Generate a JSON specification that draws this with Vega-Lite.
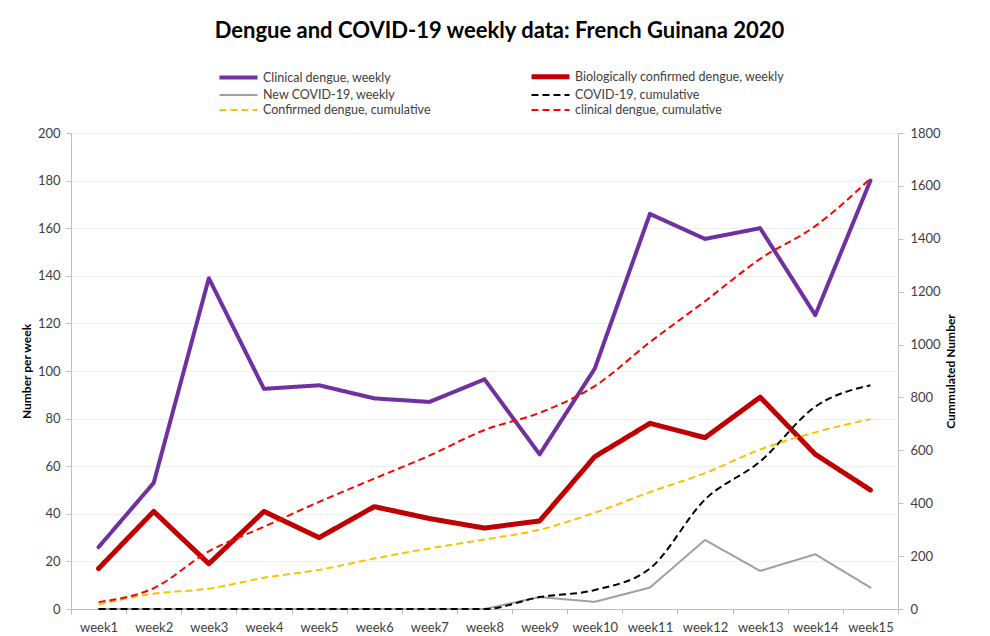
{
  "$schema": "https://vega.github.io/schema/vega-lite/v6.json",
  "width": 827,
  "height": 476,
  "autosize": "none",
  "padding": {"left": 71, "top": 133, "right": 92, "bottom": 27},
  "background": "white",
  "title": {
    "text": "Dengue and COVID-19 weekly data: French Guinana 2020",
    "font": "Lato",
    "fontSize": 22,
    "fontWeight": "bold",
    "color": "black",
    "anchor": "middle",
    "frame": "group",
    "dx": 15,
    "offset": 24
  },
  "data": {
    "values": [
      {"week": "week1", "series": "Clinical dengue, weekly", "value": 26},
      {"week": "week2", "series": "Clinical dengue, weekly", "value": 53},
      {"week": "week3", "series": "Clinical dengue, weekly", "value": 139},
      {"week": "week4", "series": "Clinical dengue, weekly", "value": 92.5},
      {"week": "week5", "series": "Clinical dengue, weekly", "value": 94},
      {"week": "week6", "series": "Clinical dengue, weekly", "value": 88.5},
      {"week": "week7", "series": "Clinical dengue, weekly", "value": 87},
      {"week": "week8", "series": "Clinical dengue, weekly", "value": 96.5},
      {"week": "week9", "series": "Clinical dengue, weekly", "value": 65},
      {"week": "week10", "series": "Clinical dengue, weekly", "value": 101},
      {"week": "week11", "series": "Clinical dengue, weekly", "value": 166},
      {"week": "week12", "series": "Clinical dengue, weekly", "value": 155.5},
      {"week": "week13", "series": "Clinical dengue, weekly", "value": 160},
      {"week": "week14", "series": "Clinical dengue, weekly", "value": 123.5},
      {"week": "week15", "series": "Clinical dengue, weekly", "value": 180},

      {"week": "week1", "series": "Biologically confirmed dengue, weekly", "value": 17},
      {"week": "week2", "series": "Biologically confirmed dengue, weekly", "value": 41},
      {"week": "week3", "series": "Biologically confirmed dengue, weekly", "value": 19},
      {"week": "week4", "series": "Biologically confirmed dengue, weekly", "value": 41},
      {"week": "week5", "series": "Biologically confirmed dengue, weekly", "value": 30},
      {"week": "week6", "series": "Biologically confirmed dengue, weekly", "value": 43},
      {"week": "week7", "series": "Biologically confirmed dengue, weekly", "value": 38},
      {"week": "week8", "series": "Biologically confirmed dengue, weekly", "value": 34},
      {"week": "week9", "series": "Biologically confirmed dengue, weekly", "value": 37},
      {"week": "week10", "series": "Biologically confirmed dengue, weekly", "value": 64},
      {"week": "week11", "series": "Biologically confirmed dengue, weekly", "value": 78},
      {"week": "week12", "series": "Biologically confirmed dengue, weekly", "value": 72},
      {"week": "week13", "series": "Biologically confirmed dengue, weekly", "value": 89},
      {"week": "week14", "series": "Biologically confirmed dengue, weekly", "value": 65},
      {"week": "week15", "series": "Biologically confirmed dengue, weekly", "value": 50},

      {"week": "week1", "series": "New COVID-19, weekly", "value": 0},
      {"week": "week2", "series": "New COVID-19, weekly", "value": 0},
      {"week": "week3", "series": "New COVID-19, weekly", "value": 0},
      {"week": "week4", "series": "New COVID-19, weekly", "value": 0},
      {"week": "week5", "series": "New COVID-19, weekly", "value": 0},
      {"week": "week6", "series": "New COVID-19, weekly", "value": 0},
      {"week": "week7", "series": "New COVID-19, weekly", "value": 0},
      {"week": "week8", "series": "New COVID-19, weekly", "value": 0},
      {"week": "week9", "series": "New COVID-19, weekly", "value": 5},
      {"week": "week10", "series": "New COVID-19, weekly", "value": 3},
      {"week": "week11", "series": "New COVID-19, weekly", "value": 9},
      {"week": "week12", "series": "New COVID-19, weekly", "value": 29},
      {"week": "week13", "series": "New COVID-19, weekly", "value": 16},
      {"week": "week14", "series": "New COVID-19, weekly", "value": 23},
      {"week": "week15", "series": "New COVID-19, weekly", "value": 9},

      {"week": "week1", "series": "COVID-19, cumulative", "value": 0},
      {"week": "week2", "series": "COVID-19, cumulative", "value": 0},
      {"week": "week3", "series": "COVID-19, cumulative", "value": 0},
      {"week": "week4", "series": "COVID-19, cumulative", "value": 0},
      {"week": "week5", "series": "COVID-19, cumulative", "value": 0},
      {"week": "week6", "series": "COVID-19, cumulative", "value": 0},
      {"week": "week7", "series": "COVID-19, cumulative", "value": 0},
      {"week": "week8", "series": "COVID-19, cumulative", "value": 0},
      {"week": "week9", "series": "COVID-19, cumulative", "value": 5},
      {"week": "week10", "series": "COVID-19, cumulative", "value": 8},
      {"week": "week11", "series": "COVID-19, cumulative", "value": 17},
      {"week": "week12", "series": "COVID-19, cumulative", "value": 46},
      {"week": "week13", "series": "COVID-19, cumulative", "value": 62},
      {"week": "week14", "series": "COVID-19, cumulative", "value": 85},
      {"week": "week15", "series": "COVID-19, cumulative", "value": 94},

      {"week": "week1", "series": "Confirmed dengue, cumulative", "value": 17},
      {"week": "week2", "series": "Confirmed dengue, cumulative", "value": 58},
      {"week": "week3", "series": "Confirmed dengue, cumulative", "value": 77},
      {"week": "week4", "series": "Confirmed dengue, cumulative", "value": 118},
      {"week": "week5", "series": "Confirmed dengue, cumulative", "value": 148},
      {"week": "week6", "series": "Confirmed dengue, cumulative", "value": 191},
      {"week": "week7", "series": "Confirmed dengue, cumulative", "value": 229},
      {"week": "week8", "series": "Confirmed dengue, cumulative", "value": 263},
      {"week": "week9", "series": "Confirmed dengue, cumulative", "value": 300},
      {"week": "week10", "series": "Confirmed dengue, cumulative", "value": 364},
      {"week": "week11", "series": "Confirmed dengue, cumulative", "value": 442},
      {"week": "week12", "series": "Confirmed dengue, cumulative", "value": 514},
      {"week": "week13", "series": "Confirmed dengue, cumulative", "value": 603},
      {"week": "week14", "series": "Confirmed dengue, cumulative", "value": 668},
      {"week": "week15", "series": "Confirmed dengue, cumulative", "value": 718},

      {"week": "week1", "series": "clinical dengue, cumulative", "value": 26},
      {"week": "week2", "series": "clinical dengue, cumulative", "value": 79},
      {"week": "week3", "series": "clinical dengue, cumulative", "value": 218},
      {"week": "week4", "series": "clinical dengue, cumulative", "value": 311},
      {"week": "week5", "series": "clinical dengue, cumulative", "value": 405},
      {"week": "week6", "series": "clinical dengue, cumulative", "value": 493},
      {"week": "week7", "series": "clinical dengue, cumulative", "value": 580},
      {"week": "week8", "series": "clinical dengue, cumulative", "value": 677},
      {"week": "week9", "series": "clinical dengue, cumulative", "value": 742},
      {"week": "week10", "series": "clinical dengue, cumulative", "value": 843},
      {"week": "week11", "series": "clinical dengue, cumulative", "value": 1009},
      {"week": "week12", "series": "clinical dengue, cumulative", "value": 1164},
      {"week": "week13", "series": "clinical dengue, cumulative", "value": 1324},
      {"week": "week14", "series": "clinical dengue, cumulative", "value": 1448},
      {"week": "week15", "series": "clinical dengue, cumulative", "value": 1628}
    ]
  },
  "encoding": {
    "x": {
      "field": "week",
      "type": "ordinal",
      "sort": ["week1","week2","week3","week4","week5","week6","week7","week8","week9","week10","week11","week12","week13","week14","week15"],
      "scale": {"type": "band", "paddingInner": 0, "paddingOuter": 0},
      "axis": {
        "title": null,
        "labelAngle": 0,
        "labelFontSize": 13,
        "labelColor": "#404040",
        "labelFont": "Lato",
        "domainColor": "#bfbfbf",
        "tickColor": "#bfbfbf",
        "tickBand": "extent",
        "tickSize": 5,
        "labelPadding": 7,
        "grid": false
      }
    },
    "color": {
      "field": "series",
      "type": "nominal",
      "scale": {
        "domain": ["Clinical dengue, weekly", "Biologically confirmed dengue, weekly", "New COVID-19, weekly", "COVID-19, cumulative", "Confirmed dengue, cumulative", "clinical dengue, cumulative"],
        "range": ["#7030A0", "#C00000", "#A0A0A0", "#000000", "#FFC000", "#FF0000"]
      },
      "legend": {"title": null}
    },
    "strokeWidth": {
      "field": "series",
      "type": "nominal",
      "scale": {
        "type": "ordinal",
        "domain": ["Clinical dengue, weekly", "Biologically confirmed dengue, weekly", "New COVID-19, weekly", "COVID-19, cumulative", "Confirmed dengue, cumulative", "clinical dengue, cumulative"],
        "range": [4, 5, 2, 2, 2, 2]
      },
      "legend": {"title": null}
    },
    "strokeDash": {
      "field": "series",
      "type": "nominal",
      "scale": {
        "domain": ["Clinical dengue, weekly", "Biologically confirmed dengue, weekly", "New COVID-19, weekly", "COVID-19, cumulative", "Confirmed dengue, cumulative", "clinical dengue, cumulative"],
        "range": [[1, 0], [1, 0], [1, 0], [7, 4], [7, 4], [7, 4]]
      },
      "legend": {"title": null}
    }
  },
  "layer": [
    {
      "transform": [{"filter": {"field": "series", "oneOf": ["Clinical dengue, weekly", "Biologically confirmed dengue, weekly", "New COVID-19, weekly"]}}],
      "mark": {"type": "line", "strokeCap": "round", "strokeJoin": "round"},
      "encoding": {
        "y": {
          "field": "value",
          "type": "quantitative",
          "scale": {"domain": [0, 200], "nice": false},
          "axis": {
            "title": "Number  per week",
            "titleFont": "Lato",
            "titleFontSize": 12,
            "titleFontWeight": "bold",
            "titleColor": "black",
            "titlePadding": 4,
            "values": [0, 20, 40, 60, 80, 100, 120, 140, 160, 180, 200],
            "labelFont": "Lato",
            "labelFontSize": 13,
            "labelColor": "#404040",
            "labelPadding": 6,
            "tickSize": 5,
            "tickColor": "#bfbfbf",
            "domainColor": "#bfbfbf",
            "grid": true,
            "gridColor": "#f0f0f0"
          }
        }
      }
    },
    {
      "transform": [{"filter": {"field": "series", "equal": "COVID-19, cumulative"}}],
      "mark": {"type": "line", "interpolate": "monotone"},
      "encoding": {
        "y": {
          "field": "value",
          "type": "quantitative",
          "scale": {"domain": [0, 200], "nice": false},
          "axis": null
        }
      }
    },
    {
      "transform": [{"filter": {"field": "series", "oneOf": ["Confirmed dengue, cumulative", "clinical dengue, cumulative"]}}],
      "mark": {"type": "line", "interpolate": "monotone"},
      "encoding": {
        "y": {
          "field": "value",
          "type": "quantitative",
          "scale": {"domain": [0, 1800], "nice": false},
          "axis": {
            "orient": "right",
            "title": "Cummulated Number",
            "titleAngle": 270,
            "titleFont": "Lato",
            "titleFontSize": 12,
            "titleFontWeight": "bold",
            "titleColor": "black",
            "titlePadding": 17,
            "format": "d",
            "values": [0, 200, 400, 600, 800, 1000, 1200, 1400, 1600, 1800],
            "labelFont": "Lato",
            "labelFontSize": 13,
            "labelColor": "#404040",
            "labelPadding": 7,
            "tickSize": 5,
            "tickColor": "#bfbfbf",
            "domainColor": "#bfbfbf",
            "grid": false
          }
        }
      }
    }
  ],
  "resolve": {"scale": {"y": "independent"}},
  "config": {
    "view": {"stroke": null},
    "font": "Lato",
    "legend": {
      "orient": "none",
      "direction": "horizontal",
      "legendX": 170,
      "legendY": -66,
      "columns": 2,
      "columnPadding": 90,
      "rowPadding": 0,
      "symbolType": "M-4.43,0H1",
      "symbolSize": 196,
      "labelFont": "Lato",
      "labelFontSize": 12.5,
      "labelColor": "#404040",
      "labelOffset": 3,
      "labelLimit": 400
    }
  }
}
